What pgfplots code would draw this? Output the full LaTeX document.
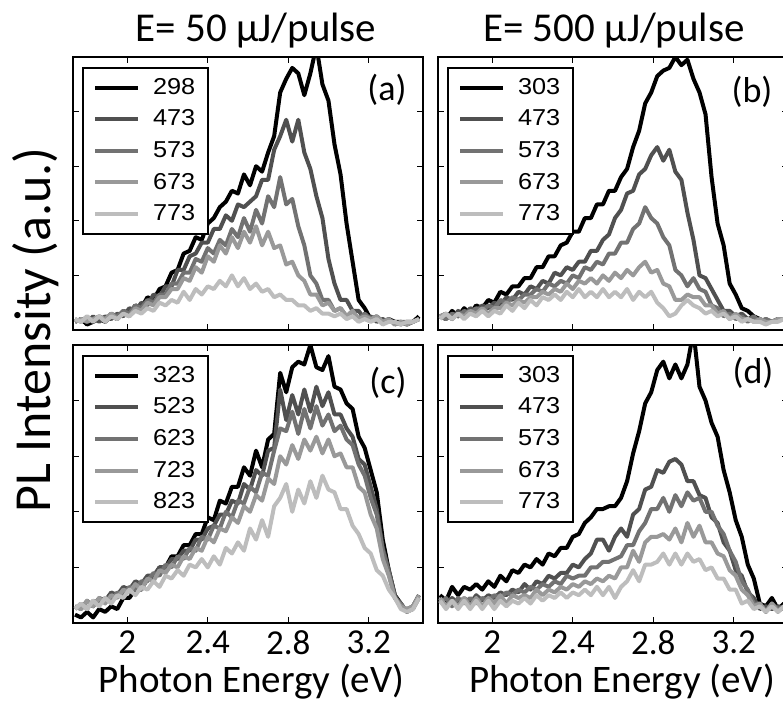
\documentclass[border=0pt]{standalone}
\usepackage{fontspec}
\setmainfont{Carlito}
\newfontfamily\legfont[FakeStretch=1.1]{Liberation Sans}
\usepackage{pgfplots}
\usepackage{pgfplotstable}
\pgfplotsset{compat=1.18}

\definecolor{c1}{HTML}{000000}
\definecolor{c2}{HTML}{505050}
\definecolor{c3}{HTML}{727272}
\definecolor{c4}{HTML}{999999}
\definecolor{c5}{HTML}{BDBDBD}

\pgfplotstableread{
x k a b c d
1.74 .03 .03 .04 .03 .04
1.77 .04 .04 .03 .04 .03
1.80 .02 .03 .05 .03 .05
1.83 .03 .05 .03 .04 .03
1.86 .04 .03 .05 .05 .05
1.89 .03 .05 .04 .04 .03
1.92 .05 .04 .06 .06 .05
1.95 .04 .06 .05 .04 .04
1.98 .07 .05 .07 .06 .06
2.01 .06 .08 .06 .05 .05
2.04 .09 .07 .09 .08 .07
2.07 .08 .10 .08 .07 .06
2.10 .12 .09 .11 .10 .08
2.13 .11 .13 .10 .09 .07
2.16 .15 .12 .13 .12 .10
2.19 .16 .16 .13 .12 .09
2.22 .21 .16 .17 .15 .11
2.25 .22 .22 .17 .15 .10
2.28 .28 .22 .21 .19 .14
2.31 .29 .27 .21 .18 .11
2.34 .34 .28 .26 .23 .15
2.37 .33 .32 .25 .21 .13
2.40 .39 .32 .30 .27 .16
2.43 .41 .37 .28 .25 .15
2.46 .45 .37 .33 .31 .18
2.49 .47 .42 .31 .28 .16
2.52 .51 .40 .37 .34 .20
2.55 .50 .46 .34 .30 .16
2.58 .57 .45 .41 .36 .19
2.61 .53 .47 .36 .32 .15
2.64 .60 .49 .44 .38 .17
2.67 .58 .55 .39 .31 .14
2.70 .65 .55 .49 .36 .15
2.73 .71 .66 .45 .30 .12
2.76 .87 .71 .56 .31 .13
2.79 .92 .77 .46 .24 .11
2.82 .96 .69 .48 .25 .11
2.85 .94 .77 .38 .20 .09
2.88 .86 .65 .31 .18 .09
2.91 .94 .59 .20 .13 .07
2.94 1.04 .49 .17 .13 .08
2.97 .90 .41 .11 .09 .06
3.00 .84 .26 .11 .10 .06
3.03 .68 .17 .07 .07 .05
3.06 .57 .11 .08 .08 .06
3.09 .39 .11 .05 .05 .04
3.12 .25 .07 .07 .07 .05
3.15 .11 .07 .04 .04 .03
3.18 .08 .04 .06 .05 .04
3.21 .04 .05 .04 .04 .03
3.24 .05 .03 .04 .05 .04
3.27 .03 .04 .03 .03 .02
3.30 .04 .03 .04 .04 .03
3.33 .03 .03 .02 .02 .03
3.36 .03 .02 .03 .03 .02
3.39 .02 .03 .03 .02 .03
3.42 .03 .03 .03 .03 .03
3.45 .05 .04 .04 .04 .04
}\tabA

\pgfplotstableread{
x k a b c d
1.74 .05 .05 .05 .05 .04
1.77 .04 .06 .04 .06 .06
1.80 .07 .04 .06 .04 .04
1.83 .05 .07 .05 .06 .06
1.86 .08 .05 .07 .05 .04
1.89 .06 .08 .06 .07 .06
1.92 .09 .07 .08 .06 .05
1.95 .08 .09 .07 .08 .07
1.98 .11 .08 .09 .06 .05
2.01 .10 .10 .08 .08 .07
2.04 .14 .09 .11 .08 .06
2.07 .13 .12 .10 .10 .09
2.10 .16 .11 .12 .09 .07
2.13 .16 .14 .11 .11 .10
2.16 .19 .13 .13 .10 .08
2.19 .19 .16 .13 .12 .11
2.22 .23 .15 .15 .12 .09
2.25 .23 .18 .14 .14 .12
2.28 .27 .17 .17 .13 .11
2.31 .27 .21 .16 .15 .13
2.34 .31 .20 .18 .14 .11
2.37 .32 .23 .17 .17 .14
2.40 .36 .22 .20 .15 .12
2.43 .36 .25 .19 .18 .15
2.46 .41 .25 .23 .17 .12
2.49 .41 .29 .22 .19 .14
2.52 .46 .29 .25 .17 .12
2.55 .46 .33 .24 .20 .15
2.58 .51 .35 .28 .18 .12
2.61 .51 .41 .28 .21 .14
2.64 .56 .44 .32 .19 .12
2.67 .59 .50 .32 .22 .15
2.70 .67 .51 .37 .20 .11
2.73 .73 .57 .39 .23 .14
2.76 .83 .59 .45 .25 .12
2.79 .87 .64 .41 .21 .14
2.82 .93 .67 .39 .22 .10
2.85 .95 .62 .34 .17 .08
2.88 .96 .66 .31 .16 .05
2.91 1.00 .58 .22 .11 .06
2.94 .97 .55 .20 .11 .09
2.97 .99 .43 .16 .13 .11
3.00 .92 .33 .19 .12 .09
3.03 .87 .20 .15 .12 .08
3.06 .79 .19 .14 .09 .06
3.09 .56 .15 .09 .09 .07
3.12 .39 .11 .08 .06 .05
3.15 .31 .07 .05 .07 .06
3.18 .17 .07 .06 .04 .04
3.21 .13 .05 .04 .06 .05
3.24 .08 .06 .05 .04 .03
3.27 .07 .04 .03 .04 .04
3.30 .05 .05 .05 .03 .03
3.33 .04 .03 .03 .04 .03
3.36 .03 .04 .04 .03 .02
3.39 .03 .03 .03 .03 .03
3.42 .04 .04 .04 .04 .03
3.45 .04 .04 .04 .04 .04
}\tabB

\pgfplotstableread{
x k a b c d
1.74 .03 .06 .05 .06 .05
1.77 .02 .05 .07 .05 .07
1.80 .04 .08 .05 .08 .05
1.83 .02 .06 .08 .06 .08
1.86 .05 .09 .07 .09 .06
1.89 .04 .08 .09 .07 .09
1.92 .06 .11 .08 .10 .07
1.95 .05 .10 .11 .09 .10
1.98 .09 .13 .10 .12 .09
2.01 .09 .12 .13 .11 .12
2.04 .12 .15 .12 .14 .10
2.07 .12 .14 .15 .12 .13
2.10 .16 .17 .15 .16 .12
2.13 .16 .17 .18 .15 .15
2.16 .20 .20 .17 .19 .13
2.19 .20 .20 .21 .18 .17
2.22 .24 .23 .20 .21 .16
2.25 .24 .23 .24 .20 .19
2.28 .28 .26 .23 .24 .17
2.31 .28 .26 .27 .23 .21
2.34 .32 .30 .26 .27 .20
2.37 .32 .30 .31 .26 .23
2.40 .38 .34 .30 .31 .20
2.43 .37 .35 .35 .29 .24
2.46 .44 .39 .34 .34 .21
2.49 .43 .39 .40 .33 .27
2.52 .49 .44 .38 .38 .25
2.55 .49 .43 .44 .36 .29
2.58 .56 .50 .43 .42 .26
2.61 .53 .48 .49 .40 .34
2.64 .62 .55 .47 .46 .30
2.67 .56 .53 .54 .44 .37
2.70 .66 .62 .53 .52 .31
2.73 .68 .63 .62 .50 .42
2.76 .90 .84 .70 .60 .45
2.79 .83 .73 .69 .57 .50
2.82 .92 .82 .76 .64 .40
2.85 .94 .75 .68 .59 .48
2.88 .93 .84 .77 .66 .43
2.91 1.00 .76 .70 .62 .51
2.94 .92 .85 .78 .67 .45
2.97 .91 .78 .71 .61 .53
3.00 .96 .83 .75 .66 .48
3.03 .85 .75 .69 .60 .47
3.06 .84 .75 .71 .61 .41
3.09 .79 .70 .66 .56 .41
3.12 .77 .67 .64 .56 .35
3.15 .67 .59 .57 .49 .32
3.18 .63 .57 .53 .47 .27
3.21 .55 .49 .45 .39 .25
3.24 .47 .41 .39 .34 .19
3.27 .30 .27 .26 .23 .17
3.30 .19 .19 .18 .17 .12
3.33 .10 .10 .09 .09 .09
3.36 .07 .06 .07 .06 .05
3.39 .04 .05 .04 .05 .04
3.42 .06 .06 .05 .06 .05
3.45 .10 .09 .09 .10 .09
}\tabC

\pgfplotstableread{
x k a b c d
1.74 .10 .08 .07 .09 .08
1.77 .08 .06 .09 .06 .05
1.80 .13 .09 .06 .08 .08
1.83 .10 .07 .09 .06 .05
1.86 .13 .09 .07 .09 .08
1.89 .12 .07 .09 .06 .05
1.92 .14 .10 .07 .09 .08
1.95 .12 .08 .09 .06 .05
1.98 .15 .10 .08 .09 .08
2.01 .13 .09 .10 .07 .05
2.04 .17 .11 .09 .10 .08
2.07 .15 .10 .11 .07 .06
2.10 .19 .12 .10 .10 .08
2.13 .18 .11 .12 .09 .07
2.16 .21 .14 .11 .10 .09
2.19 .20 .12 .13 .09 .07
2.22 .23 .15 .12 .12 .10
2.25 .21 .14 .14 .10 .08
2.28 .25 .17 .13 .12 .10
2.31 .24 .16 .15 .11 .09
2.34 .27 .18 .14 .13 .11
2.37 .27 .18 .17 .12 .09
2.40 .31 .21 .16 .14 .11
2.43 .32 .20 .17 .13 .10
2.46 .36 .23 .17 .15 .12
2.49 .38 .25 .20 .14 .10
2.52 .41 .30 .20 .16 .13
2.55 .41 .30 .22 .15 .10
2.58 .42 .26 .22 .17 .13
2.61 .42 .31 .23 .16 .09
2.64 .45 .34 .24 .20 .13
2.67 .51 .31 .28 .20 .15
2.70 .61 .39 .28 .26 .19
2.73 .69 .41 .33 .22 .15
2.76 .79 .48 .36 .29 .21
2.79 .83 .49 .41 .31 .21
2.82 .91 .55 .41 .31 .22
2.85 .94 .54 .45 .32 .25
2.88 .88 .58 .40 .30 .21
2.91 .93 .59 .46 .34 .25
2.94 .88 .57 .42 .29 .21
2.97 .93 .51 .47 .36 .25
3.00 1.05 .51 .44 .31 .22
3.03 .85 .46 .45 .35 .23
3.06 .80 .45 .40 .29 .19
3.09 .72 .38 .40 .29 .20
3.12 .67 .36 .35 .25 .16
3.15 .55 .29 .32 .24 .16
3.18 .47 .26 .26 .19 .12
3.21 .37 .19 .22 .17 .12
3.24 .31 .17 .15 .12 .07
3.27 .21 .11 .12 .10 .08
3.30 .16 .09 .07 .06 .05
3.33 .07 .05 .07 .07 .06
3.36 .06 .06 .04 .04 .04
3.39 .09 .05 .07 .07 .06
3.42 .05 .06 .05 .04 .04
3.45 .07 .05 .06 .06 .06
}\tabD

\pgfplotsset{
  panel/.style={
    scale only axis, width=175pt,
    xmin=1.73, xmax=3.47, ymin=0, ymax=1,
    xtick={2,2.4,2.8,3.2}, ytick={0.2,0.4,0.6,0.8},
    yticklabels={},
    tick align=inside, major tick length=3pt,
    tick style={line width=0.6pt, black},
    axis line style={line width=1.4pt},
    /pgf/number format/assume math mode=true,
    xticklabel style={font=\fontsize{17.5}{17.5}\selectfont, inner sep=0pt, yshift=-3.5pt},
    legend cell align=left,
    legend image code/.code={\draw[##1, line width=2pt] (0pt,0pt) -- (21.5pt,0pt);},
    legend style={at={(0,1)}, xshift=4.5pt, yshift=-5pt, anchor=north west,
      draw=black, line width=1pt, inner xsep=5pt, inner ysep=3.5pt,
      row sep=3.3pt, column sep=5pt, font=\legfont\fontsize{11.5}{11.5}\selectfont,
      nodes={inner sep=1.5pt}},
    every axis plot/.append style={line width=2pt, line join=round},
  },
  top/.style={panel, height=136.5pt, xticklabels={}},
  bot/.style={panel, height=139pt},
}

\begin{document}
\begin{tikzpicture}
\path[use as bounding box] (0,0) rectangle (391.5pt,353pt);

% (a)
\begin{axis}[top, at={(36.5pt,188pt)}, anchor=south west]
\addplot[c1] table[x=x,y=k]{\tabA}; \addlegendentry{298}
\addplot[c2] table[x=x,y=a]{\tabA}; \addlegendentry{473}
\addplot[c3] table[x=x,y=b]{\tabA}; \addlegendentry{573}
\addplot[c4] table[x=x,y=c]{\tabA}; \addlegendentry{673}
\addplot[c5] table[x=x,y=d]{\tabA}; \addlegendentry{773}
\end{axis}

% (b)
\begin{axis}[top, at={(219pt,188pt)}, anchor=south west]
\addplot[c1] table[x=x,y=k]{\tabB}; \addlegendentry{303}
\addplot[c2] table[x=x,y=a]{\tabB}; \addlegendentry{473}
\addplot[c3] table[x=x,y=b]{\tabB}; \addlegendentry{573}
\addplot[c4] table[x=x,y=c]{\tabB}; \addlegendentry{673}
\addplot[c5] table[x=x,y=d]{\tabB}; \addlegendentry{773}
\end{axis}

% (c)
\begin{axis}[bot, at={(36.5pt,41.5pt)}, anchor=south west]
\addplot[c1] table[x=x,y=k]{\tabC}; \addlegendentry{323}
\addplot[c2] table[x=x,y=a]{\tabC}; \addlegendentry{523}
\addplot[c3] table[x=x,y=b]{\tabC}; \addlegendentry{623}
\addplot[c4] table[x=x,y=c]{\tabC}; \addlegendentry{723}
\addplot[c5] table[x=x,y=d]{\tabC}; \addlegendentry{823}
\end{axis}

% (d)
\begin{axis}[bot, at={(219pt,41.5pt)}, anchor=south west]
\addplot[c1] table[x=x,y=k]{\tabD}; \addlegendentry{303}
\addplot[c2] table[x=x,y=a]{\tabD}; \addlegendentry{473}
\addplot[c3] table[x=x,y=b]{\tabD}; \addlegendentry{573}
\addplot[c4] table[x=x,y=c]{\tabD}; \addlegendentry{673}
\addplot[c5] table[x=x,y=d]{\tabD}; \addlegendentry{773}
\end{axis}

% titles and labels
\node[anchor=base, inner sep=0pt, font=\fontsize{20.5}{20.5}\selectfont] at (128pt,332pt) {E= 50 μJ/pulse};
\node[anchor=base, inner sep=0pt, font=\fontsize{20.5}{20.5}\selectfont] at (307pt,332pt) {E= 500 μJ/pulse};
\node[anchor=base, inner sep=0pt, rotate=90, font=\fontsize{26}{26}\selectfont] at (25pt,188pt) {PL Intensity (a.u.)};
\node[anchor=base, inner sep=0pt, font=\fontsize{19.5}{19.5}\selectfont] at (125.75pt,6.5pt) {Photon Energy (eV)};
\node[anchor=base, inner sep=0pt, font=\fontsize{19.5}{19.5}\selectfont] at (311pt,6.5pt) {Photon Energy (eV)};
\node[inner sep=0pt, font=\fontsize{18}{18}\selectfont] at (193.5pt,308pt) {(a)};
\node[inner sep=0pt, font=\fontsize{18}{18}\selectfont] at (376pt,307pt) {(b)};
\node[inner sep=0pt, font=\fontsize{18}{18}\selectfont] at (194pt,161.5pt) {(c)};
\node[inner sep=0pt, font=\fontsize{18}{18}\selectfont] at (376.5pt,166.5pt) {(d)};
\end{tikzpicture}
\end{document}
